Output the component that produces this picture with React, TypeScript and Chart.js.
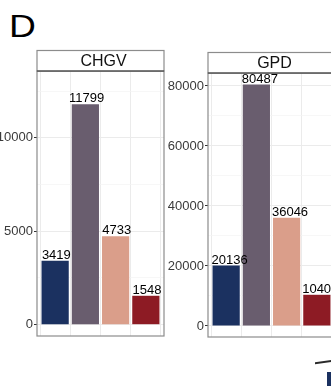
import React, { useEffect, useRef } from "react";
import { Chart, registerables } from "chart.js";

Chart.register(...registerables);

// Four variant groups per database, in plotting order
const categories = ["group1", "group2", "group3", "group4"];
const barColors = ["#1b3160", "#695d6e", "#da9e8a", "#8d1b24"];

const chgvTitle = "CHGV";
const chgvCounts = [3419, 11799, 4733, 1548];
const chgvTicks = [0, 5000, 10000];

const gpdTitle = "GPD";
const gpdCounts = [20136, 80487, 36046, 10404];
const gpdTicks = [0, 20000, 40000, 60000, 80000];

const FONT = "'Liberation Sans', Arial, Helvetica, sans-serif";

type PanelProps = {
  title: string;
  counts: number[];
  majorTicks: number[];
  left: number;
  width: number;
  height: number;
  axisWidth: number;
  padTop: number;
  padRight: number;
  padBottom: number;
  yMin: number;
  yMax: number;
  labelDx: number;
};

function Panel(p: PanelProps) {
  const ref = useRef<HTMLCanvasElement | null>(null);

  useEffect(() => {
    const canvas = ref.current;
    if (!canvas) return;
    const majorStep = p.majorTicks[1] - p.majorTicks[0];
    const minorStep = majorStep / 2;
    const isMajor = (v: number) => Math.abs(v % majorStep) < 1e-6;

    const panelDecor = {
      id: "panelDecor",
      afterDatasetsDraw(chart: Chart) {
        const { ctx, chartArea: a } = chart;
        ctx.save();
        // panel border
        ctx.strokeStyle = "#8c8c8c";
        ctx.lineWidth = 1.2;
        ctx.strokeRect(a.left, a.top, a.right - a.left, a.bottom - a.top);
        // value labels above bars
        ctx.fillStyle = "#000";
        ctx.font = `13px ${FONT}`;
        ctx.textAlign = "center";
        ctx.textBaseline = "alphabetic";
        const meta = chart.getDatasetMeta(0);
        meta.data.forEach((bar: any, i: number) => {
          ctx.fillText(String(p.counts[i]), bar.x + p.labelDx, bar.y - 2);
        });
        // facet strip
        const stripH = 20.5;
        const top = a.top - stripH;
        ctx.fillStyle = "#ffffff";
        ctx.fillRect(a.left, top, a.right - a.left, stripH);
        ctx.strokeStyle = "#8c8c8c";
        ctx.strokeRect(a.left, top, a.right - a.left, stripH);
        ctx.strokeStyle = "#3a3a3a";
        ctx.beginPath();
        ctx.moveTo(a.left, a.top);
        ctx.lineTo(a.right, a.top);
        ctx.stroke();
        ctx.fillStyle = "#111";
        ctx.font = `16px ${FONT}`;
        ctx.textBaseline = "middle";
        ctx.fillText(p.title, (a.left + a.right) / 2 + 3, top + stripH / 2 + 1);
        ctx.restore();
      },
    };

    const chart = new Chart(canvas, {
      type: "bar",
      data: {
        datasets: [
          {
            data: p.counts.map((v, i) => ({ x: i + 1, y: v })),
            backgroundColor: barColors,
            borderWidth: 0,
            barPercentage: 0.9,
            categoryPercentage: 1,
          },
        ],
      },
      options: {
        animation: false,
        responsive: false,
        devicePixelRatio: 1,
        layout: {
          padding: { left: 0, top: p.padTop, right: p.padRight, bottom: p.padBottom },
        },
        plugins: {
          legend: { display: false },
          tooltip: { enabled: false },
          title: { display: false },
        },
        scales: {
          x: {
            type: "linear",
            min: 0.4,
            max: 4.6,
            offset: false,
            afterBuildTicks: (s: any) => {
              s.ticks = categories.map((_, i) => ({ value: i + 1 }));
            },
            afterFit: (s: any) => {
              s.height = 0;
            },
            ticks: { display: false },
            grid: { color: "#ebebeb", lineWidth: 1, drawTicks: false },
            border: { display: false },
          },
          y: {
            type: "linear",
            min: p.yMin,
            max: p.yMax,
            afterBuildTicks: (s: any) => {
              const t: { value: number }[] = [];
              for (let v = Math.ceil(p.yMin / minorStep) * minorStep; v <= p.yMax; v += minorStep) {
                t.push({ value: v });
              }
              s.ticks = t;
            },
            afterFit: (s: any) => {
              s.width = p.axisWidth;
            },
            border: { display: false },
            grid: {
              color: (c: any) => (c.tick && isMajor(c.tick.value) ? "#ebebeb" : "#f3f3f3"),
              lineWidth: (c: any) => (c.tick && isMajor(c.tick.value) ? 1 : 0.7),
              tickLength: 3,
              tickWidth: 1,
              tickColor: (c: any) => (c.tick && isMajor(c.tick.value) ? "#333333" : "rgba(0,0,0,0)"),
            },
            ticks: {
              autoSkip: false,
              padding: 1,
              color: "#3a3a3a",
              font: { family: FONT, size: 13 },
              callback: (v: any) => (p.majorTicks.includes(Number(v)) ? String(v) : ""),
            },
          },
        },
      },
      plugins: [panelDecor],
    } as any);

    return () => chart.destroy();
  }, []);

  return (
    <canvas
      ref={ref}
      width={p.width}
      height={p.height}
      style={{ position: "absolute", left: p.left, top: 0, width: p.width, height: p.height }}
    />
  );
}

export default function App() {
  return (
    <div
      style={{
        position: "fixed",
        left: 0,
        top: 0,
        width: 331,
        height: 386,
        overflow: "hidden",
        background: "#ffffff",
      }}
    >
      <div
        style={{
          position: "absolute",
          left: 9,
          top: 11,
          font: `31px ${FONT}`,
          lineHeight: "31px",
          color: "#000",
          transform: "scaleX(1.2)",
          transformOrigin: "left top",
        }}
      >
        D
      </div>
      <Panel
        title={chgvTitle}
        counts={chgvCounts}
        majorTicks={chgvTicks}
        left={-20}
        width={190}
        height={386}
        axisWidth={57}
        padTop={71}
        padRight={6}
        padBottom={50}
        yMin={-605}
        yMax={13581}
        labelDx={1.2}
      />
      <Panel
        title={gpdTitle}
        counts={gpdCounts}
        majorTicks={gpdTicks}
        left={160}
        width={181}
        height={386}
        axisWidth={48}
        padTop={73}
        padRight={6}
        padBottom={49}
        yMin={-3667}
        yMax={84333}
        labelDx={3.4}
      />
      <div
        style={{
          position: "absolute",
          left: 315,
          top: 361,
          width: 18,
          height: 2,
          background: "#2a2a2a",
          transform: "skewY(-8deg)",
        }}
      />
      <div
        style={{
          position: "absolute",
          left: 327,
          top: 372,
          width: 6,
          height: 16,
          background: "#1b3160",
        }}
      />
    </div>
  );
}
